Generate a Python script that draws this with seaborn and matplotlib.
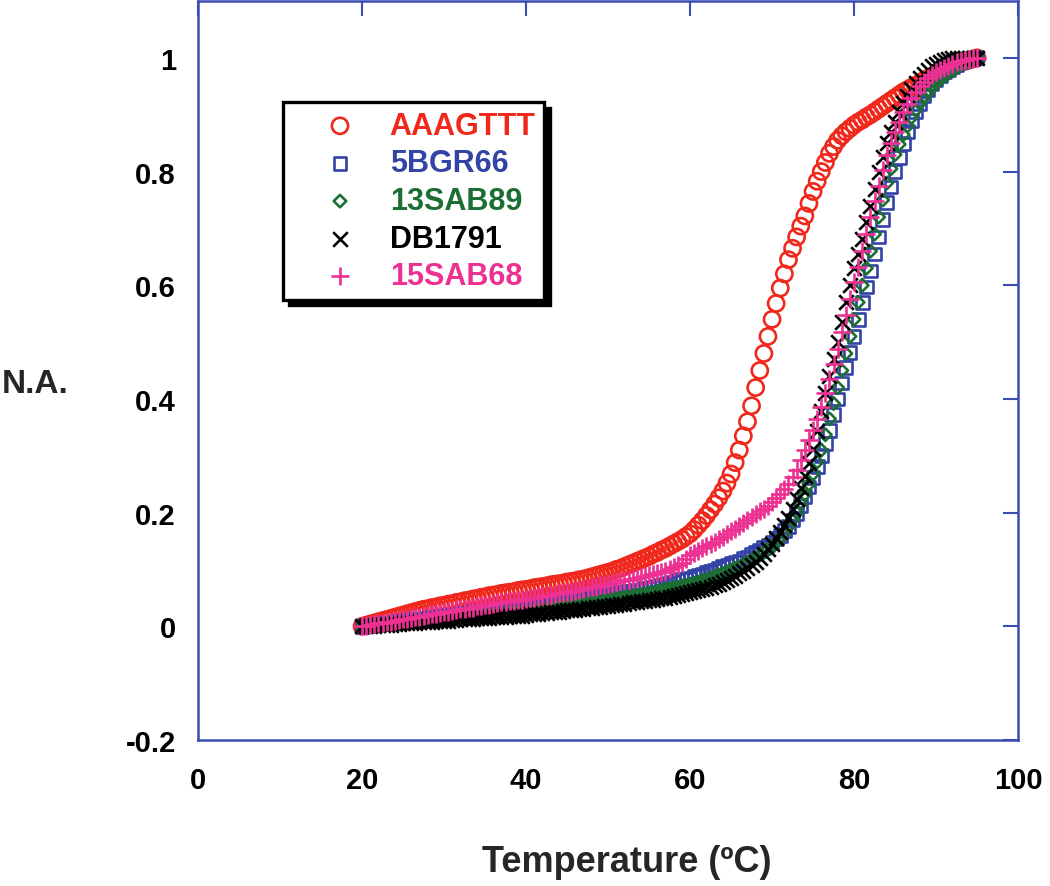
import numpy as np
import pandas as pd
import matplotlib
matplotlib.use("Agg")
import matplotlib.pyplot as plt
import seaborn as sns

# temperature grid of the melting curves (0.5 C steps)
temps = np.arange(20, 95.25, 0.5)

aaagttt = [
    0.000, 0.002, 0.004, 0.006, 0.008, 0.010, 0.012, 0.014, 0.016, 0.018,
    0.020, 0.022, 0.024, 0.026, 0.028, 0.030, 0.031, 0.033, 0.034, 0.036,
    0.037, 0.039, 0.040, 0.042, 0.043, 0.045, 0.046, 0.048, 0.049, 0.051,
    0.052, 0.054, 0.055, 0.056, 0.058, 0.059, 0.060, 0.061, 0.063, 0.064,
    0.065, 0.066, 0.068, 0.069, 0.070, 0.071, 0.073, 0.074, 0.075, 0.076,
    0.078, 0.079, 0.080, 0.082, 0.083, 0.085, 0.087, 0.089, 0.091, 0.093,
    0.095, 0.097, 0.100, 0.102, 0.105, 0.108, 0.111, 0.114, 0.117, 0.120,
    0.123, 0.127, 0.130, 0.134, 0.137, 0.141, 0.145, 0.149, 0.153, 0.158,
    0.163, 0.170, 0.178, 0.186, 0.195, 0.205, 0.215, 0.226, 0.238, 0.252,
    0.268, 0.288, 0.310, 0.335, 0.360, 0.388, 0.420, 0.450, 0.480, 0.510,
    0.540, 0.568, 0.595, 0.620, 0.645, 0.665, 0.685, 0.704, 0.722, 0.744,
    0.765, 0.783, 0.800, 0.816, 0.832, 0.844, 0.855, 0.863, 0.870, 0.876,
    0.882, 0.887, 0.891, 0.896, 0.900, 0.905, 0.910, 0.915, 0.920, 0.925,
    0.930, 0.935, 0.940, 0.944, 0.948, 0.952, 0.955, 0.960, 0.964, 0.968,
    0.972, 0.976, 0.979, 0.983, 0.986, 0.989, 0.992, 0.994, 0.996, 0.998,
    1.000]

bgr66 = [
    0.000, 0.001, 0.002, 0.003, 0.004, 0.004, 0.005, 0.006, 0.007, 0.008,
    0.009, 0.010, 0.011, 0.012, 0.013, 0.013, 0.014, 0.015, 0.016, 0.017,
    0.018, 0.019, 0.020, 0.020, 0.021, 0.022, 0.023, 0.024, 0.025, 0.026,
    0.027, 0.027, 0.028, 0.029, 0.030, 0.031, 0.032, 0.033, 0.034, 0.034,
    0.035, 0.036, 0.037, 0.038, 0.039, 0.040, 0.041, 0.042, 0.043, 0.044,
    0.045, 0.046, 0.047, 0.048, 0.049, 0.050, 0.051, 0.052, 0.053, 0.054,
    0.055, 0.056, 0.057, 0.059, 0.060, 0.061, 0.062, 0.063, 0.064, 0.066,
    0.067, 0.069, 0.070, 0.072, 0.074, 0.076, 0.078, 0.080, 0.082, 0.083,
    0.085, 0.087, 0.089, 0.092, 0.094, 0.097, 0.099, 0.102, 0.105, 0.107,
    0.110, 0.112, 0.115, 0.119, 0.122, 0.126, 0.130, 0.134, 0.139, 0.143,
    0.148, 0.154, 0.160, 0.168, 0.176, 0.187, 0.198, 0.212, 0.228, 0.245,
    0.262, 0.281, 0.300, 0.322, 0.345, 0.372, 0.400, 0.428, 0.455, 0.482,
    0.510, 0.540, 0.570, 0.597, 0.625, 0.655, 0.685, 0.715, 0.745, 0.773,
    0.800, 0.825, 0.850, 0.870, 0.890, 0.905, 0.920, 0.933, 0.945, 0.954,
    0.962, 0.969, 0.975, 0.980, 0.985, 0.989, 0.993, 0.996, 0.998, 0.999,
    1.000]

sab89 = [
    0.000, 0.001, 0.001, 0.002, 0.002, 0.003, 0.004, 0.004, 0.005, 0.005,
    0.006, 0.007, 0.007, 0.008, 0.008, 0.009, 0.010, 0.010, 0.011, 0.011,
    0.012, 0.013, 0.013, 0.014, 0.015, 0.015, 0.016, 0.017, 0.017, 0.018,
    0.019, 0.019, 0.020, 0.021, 0.021, 0.022, 0.023, 0.023, 0.024, 0.025,
    0.026, 0.027, 0.028, 0.029, 0.030, 0.031, 0.032, 0.033, 0.034, 0.035,
    0.036, 0.037, 0.038, 0.039, 0.040, 0.041, 0.042, 0.043, 0.044, 0.045,
    0.046, 0.047, 0.049, 0.050, 0.051, 0.052, 0.054, 0.055, 0.056, 0.057,
    0.059, 0.060, 0.062, 0.063, 0.065, 0.066, 0.068, 0.069, 0.071, 0.072,
    0.074, 0.076, 0.078, 0.080, 0.082, 0.085, 0.088, 0.090, 0.093, 0.096,
    0.099, 0.102, 0.105, 0.109, 0.112, 0.116, 0.120, 0.125, 0.130, 0.135,
    0.140, 0.147, 0.155, 0.164, 0.175, 0.187, 0.200, 0.216, 0.232, 0.250,
    0.268, 0.289, 0.310, 0.337, 0.365, 0.392, 0.420, 0.450, 0.480, 0.510,
    0.540, 0.570, 0.600, 0.630, 0.660, 0.690, 0.720, 0.750, 0.780, 0.805,
    0.830, 0.848, 0.865, 0.880, 0.895, 0.908, 0.920, 0.930, 0.940, 0.948,
    0.955, 0.962, 0.968, 0.973, 0.978, 0.983, 0.988, 0.992, 0.995, 0.998,
    1.000]

db1791 = [
    0.000, 0.000, 0.001, 0.001, 0.002, 0.002, 0.003, 0.003, 0.004, 0.004,
    0.005, 0.005, 0.006, 0.006, 0.007, 0.007, 0.008, 0.008, 0.009, 0.009,
    0.010, 0.010, 0.011, 0.011, 0.012, 0.012, 0.013, 0.013, 0.014, 0.014,
    0.015, 0.015, 0.016, 0.016, 0.017, 0.017, 0.018, 0.018, 0.019, 0.019,
    0.020, 0.021, 0.022, 0.022, 0.023, 0.024, 0.025, 0.025, 0.026, 0.027,
    0.028, 0.029, 0.029, 0.030, 0.031, 0.032, 0.033, 0.034, 0.034, 0.035,
    0.036, 0.037, 0.038, 0.039, 0.040, 0.041, 0.042, 0.043, 0.044, 0.045,
    0.046, 0.047, 0.048, 0.049, 0.050, 0.052, 0.053, 0.055, 0.056, 0.058,
    0.060, 0.062, 0.064, 0.066, 0.068, 0.070, 0.072, 0.075, 0.078, 0.081,
    0.085, 0.089, 0.093, 0.098, 0.103, 0.108, 0.114, 0.121, 0.128, 0.136,
    0.145, 0.155, 0.166, 0.178, 0.191, 0.207, 0.224, 0.243, 0.264, 0.287,
    0.312, 0.343, 0.378, 0.410, 0.440, 0.470, 0.500, 0.535, 0.570, 0.600,
    0.630, 0.655, 0.682, 0.711, 0.740, 0.770, 0.800, 0.825, 0.850, 0.870,
    0.888, 0.905, 0.920, 0.933, 0.945, 0.955, 0.965, 0.972, 0.979, 0.985,
    0.990, 0.993, 0.996, 0.998, 0.999, 1.000, 1.000, 1.000, 1.000, 1.000,
    1.000]

sab68 = [
    0.000, 0.001, 0.003, 0.004, 0.005, 0.006, 0.007, 0.008, 0.010, 0.011,
    0.012, 0.013, 0.015, 0.016, 0.017, 0.019, 0.020, 0.021, 0.022, 0.024,
    0.025, 0.026, 0.027, 0.029, 0.030, 0.031, 0.032, 0.033, 0.035, 0.036,
    0.037, 0.038, 0.039, 0.041, 0.042, 0.043, 0.044, 0.045, 0.046, 0.047,
    0.048, 0.049, 0.050, 0.052, 0.053, 0.054, 0.055, 0.056, 0.058, 0.059,
    0.060, 0.061, 0.063, 0.064, 0.066, 0.067, 0.069, 0.070, 0.072, 0.073,
    0.075, 0.076, 0.078, 0.079, 0.081, 0.082, 0.084, 0.085, 0.087, 0.088,
    0.090, 0.092, 0.094, 0.096, 0.098, 0.101, 0.105, 0.108, 0.112, 0.118,
    0.125, 0.129, 0.133, 0.137, 0.141, 0.145, 0.149, 0.153, 0.157, 0.162,
    0.167, 0.172, 0.177, 0.182, 0.187, 0.192, 0.197, 0.202, 0.207, 0.212,
    0.218, 0.225, 0.233, 0.241, 0.250, 0.262, 0.275, 0.292, 0.310, 0.327,
    0.345, 0.365, 0.385, 0.410, 0.435, 0.461, 0.488, 0.518, 0.548, 0.576,
    0.605, 0.632, 0.660, 0.690, 0.720, 0.748, 0.775, 0.803, 0.830, 0.850,
    0.870, 0.888, 0.905, 0.918, 0.930, 0.940, 0.950, 0.958, 0.965, 0.970,
    0.975, 0.979, 0.983, 0.986, 0.990, 0.992, 0.994, 0.996, 0.998, 0.999,
    1.000]

names = ["AAAGTTT", "5BGR66", "13SAB89", "DB1791", "15SAB68"]
series = [aaagttt, bgr66, sab89, db1791, sab68]
colors = ["#f0281c", "#3343a6", "#1c6e34", "#000000", "#ec3192"]
markers = ["o", "s", "D", "x", "+"]
sizes = [135, 85, 40, 110, 160]

xticks = [0, 20, 40, 60, 80, 100]
yticks = [-0.2, 0, 0.2, 0.4, 0.6, 0.8, 1]
ytick_labels = ["-0.2", "0", "0.2", "0.4", "0.6", "0.8", "1"]

sns.set_theme(style="white")
plt.rcParams["font.family"] = ["Liberation Sans", "DejaVu Sans"]
plt.rcParams["font.weight"] = "bold"

frame_blue = "#3b4db3"

fig = plt.figure(figsize=(10.5, 8.87), dpi=100)
ax = fig.add_axes([0.1886, 0.1646, 0.781, 0.8331])

for name, vals, c, m, s in zip(names, series, colors, markers, sizes):
    df = pd.DataFrame({"T": temps, "NA": vals})
    if m in ("x", "+"):
        sns.scatterplot(data=df, x="T", y="NA", marker=m, s=s, color=c,
                        linewidth=1.9, label=name, ax=ax, zorder=3)
    else:
        sns.scatterplot(data=df, x="T", y="NA", marker=m, s=s, color=c,
                        facecolor="none", edgecolor=c, linewidth=1.9,
                        label=name, ax=ax, zorder=3)

ax.set_xlim(0, 100)
ax.set_ylim(-0.2, 1.1)
ax.set_xticks(xticks)
ax.set_xticklabels([str(t) for t in xticks])
ax.set_yticks(yticks)
ax.set_yticklabels(ytick_labels)

for sp in ax.spines.values():
    sp.set_color(frame_blue)
    sp.set_linewidth(1.8)
    sp.set_visible(True)

ax.tick_params(axis="both", which="major", direction="in", length=11, width=1.5,
               color=frame_blue, top=True, right=True, labelsize=21,
               labelcolor="black")
ax.tick_params(axis="x", pad=19)
ax.tick_params(axis="y", pad=16)
for lbl in ax.get_xticklabels() + ax.get_yticklabels():
    lbl.set_fontweight("bold")

ax.set_xlabel("Temperature (ºC)", fontsize=26, fontweight="bold", va="center")
ax.xaxis.set_label_coords(0.523, -0.164)
ax.set_ylabel("N.A.", fontsize=24, fontweight="bold", rotation=0,
              ha="center", va="center")
ax.yaxis.set_label_coords(-0.199, 0.482)

leg = ax.legend(loc="upper left", bbox_to_anchor=(0.104, 0.863),
                borderaxespad=0, frameon=True, fancybox=False,
                shadow={"color": "black", "alpha": 1, "ox": 4, "oy": -4},
                scatterpoints=1, handletextpad=0.05, handlelength=3.15,
                labelspacing=0.25, borderpad=0.28,
                prop={"weight": "bold", "size": 22})
leg.get_frame().set_edgecolor("black")
leg.get_frame().set_linewidth(2.4)
for txt, c in zip(leg.get_texts(), colors):
    txt.set_color(c)

fig.savefig("out.png", dpi=100)
